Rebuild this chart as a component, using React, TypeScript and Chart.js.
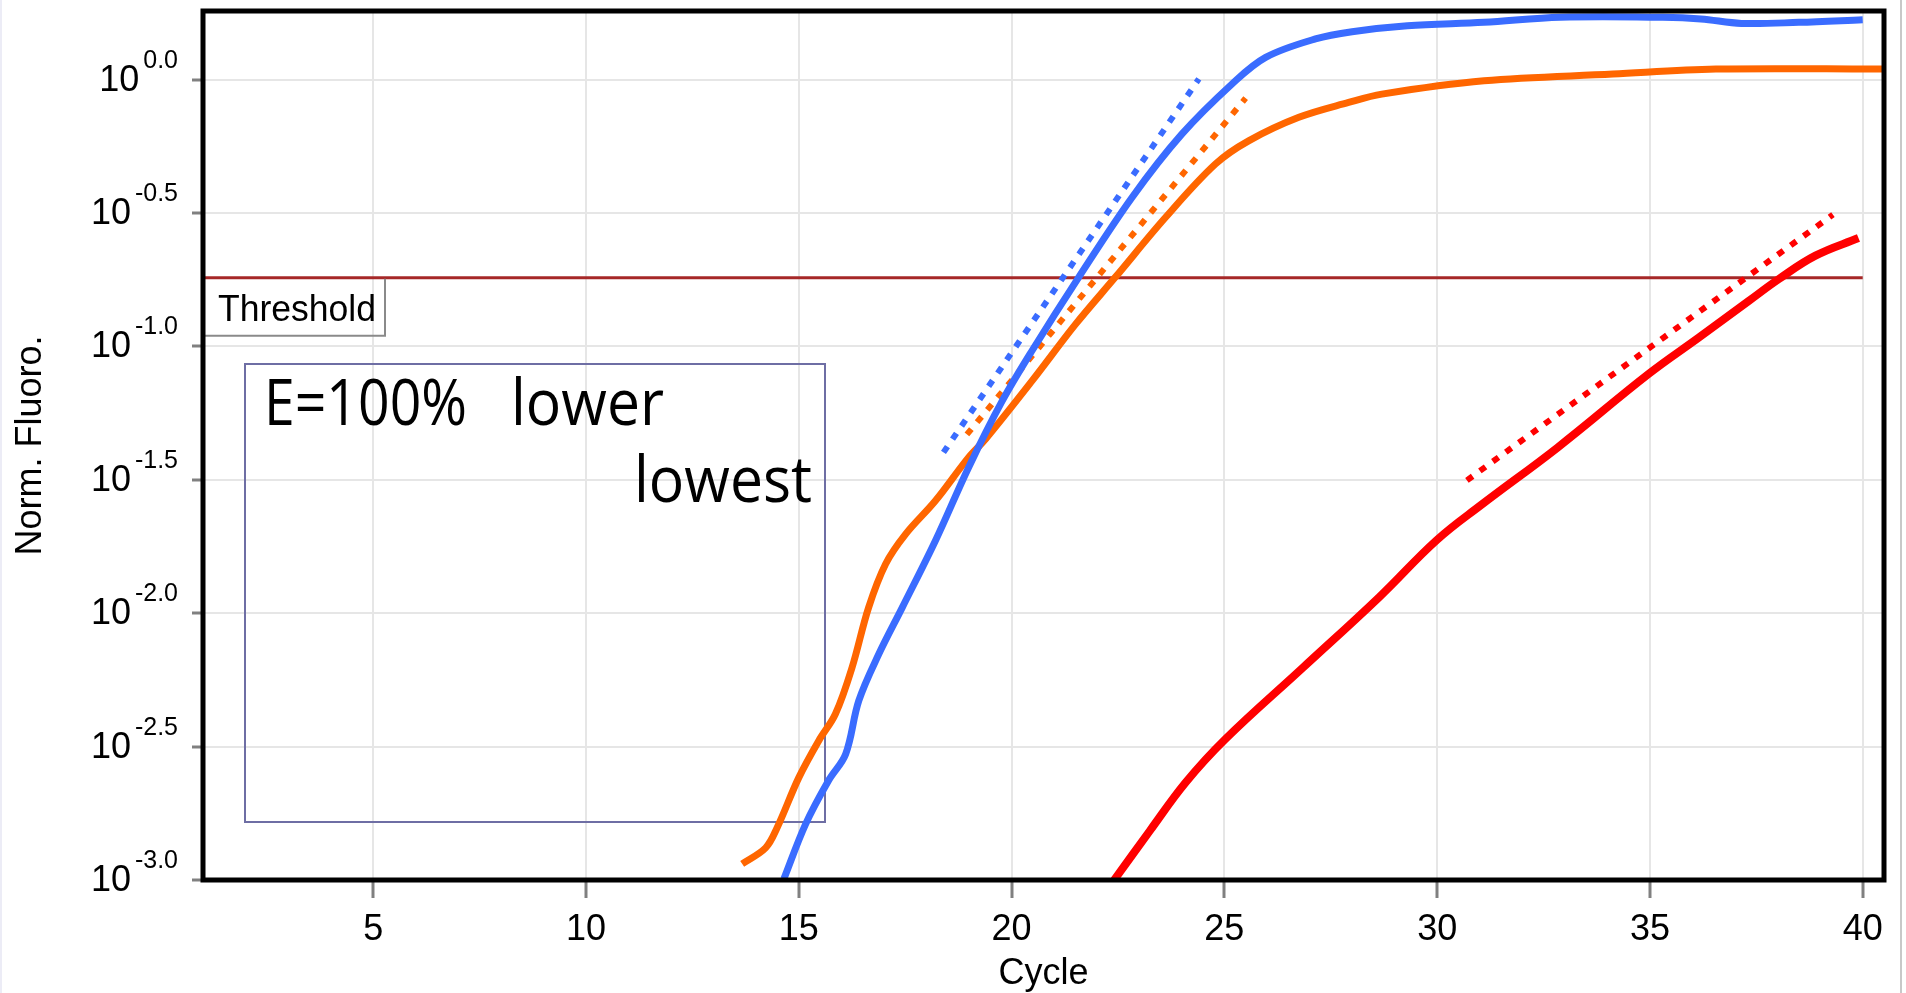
import React, { useEffect, useRef } from "react";
import { Chart, registerables } from "chart.js";

Chart.register(...registerables);

// ---- data ----
const cycleTicks = [5, 10, 15, 20, 25, 30, 35, 40];
const yTickExponents = [0, -0.5, -1, -1.5, -2, -2.5, -3];
const yTickLabels = ["0.0", "-0.5", "-1.0", "-1.5", "-2.0", "-2.5", "-3.0"];

const blueCycles = [14.65, 15.16, 15.7, 16.1, 16.41, 16.88, 17.43, 18.21, 18.99, 19.78, 20.48, 21.58, 22.83, 24.0, 25.18, 25.97, 27.14, 28.0, 29.3, 31.1, 32.9, 35.3, 36.2, 37.15, 38.5, 40.0];
const blueValues = [0.00101, 0.00162, 0.00236, 0.00296, 0.0047, 0.00703, 0.0105, 0.0187, 0.0352, 0.0625, 0.0964, 0.182, 0.362, 0.625, 0.964, 1.213, 1.422, 1.514, 1.594, 1.641, 1.714, 1.714, 1.69, 1.626, 1.641, 1.679];

const orangeCycles = [13.67, 14.22, 14.49, 15.0, 15.47, 15.86, 16.25, 16.64, 17.04, 17.51, 18.21, 18.99, 19.39, 20.48, 21.5, 22.44, 23.62, 24.79, 25.57, 26.75, 27.92, 28.7, 31.1, 34.13, 36.55, 40.5];
const orangeValues = [0.00115, 0.00132, 0.00157, 0.00242, 0.00333, 0.00419, 0.00625, 0.0105, 0.0153, 0.0198, 0.0264, 0.0384, 0.045, 0.0743, 0.121, 0.182, 0.305, 0.483, 0.59, 0.723, 0.822, 0.883, 0.991, 1.05, 1.096, 1.096];

const redCycles = [22.41, 23.25, 24.09, 25.02, 26.84, 28.64, 29.99, 31.04, 32.83, 34.97, 36.15, 37.32, 38.03, 38.89, 39.9];
const redValues = [0.001, 0.00153, 0.00232, 0.00337, 0.00624, 0.0115, 0.0188, 0.0255, 0.0418, 0.0789, 0.108, 0.148, 0.179, 0.219, 0.255];

const blueFitCycles = [18.4, 24.4];
const blueFitValues = [0.0401, 1.007];
const orangeFitCycles = [18.95, 25.5];
const orangeFitValues = [0.0468, 0.853];
const redFitCycles = [30.7, 39.3];
const redFitValues = [0.0315, 0.312];

const thresholdCycles = [1, 40];
const thresholdValue = 0.181;

const xLabel = "Cycle";
const yLabel = "Norm. Fluoro.";
const thresholdLabel = "Threshold";
const noteLine1a = "E=100%";
const noteLine1b = "lower";
const noteLine2 = "lowest";

// ---- styles ----
const BLUE = "#3a6cff";
const ORANGE = "#ff6600";
const RED = "#ff0000";
const THRESH = "#a62828";
const PIX_FONT = '"Liberation Sans", Arial, sans-serif';
const NOTE_FONT = '"Open Sans", "Noto Sans", sans-serif';

const pts = (xs: number[], ys: number[]) => xs.map((x, i) => ({ x, y: ys[i] }));

const overlay = {
  id: "overlay",
  beforeDraw(chart: any) {
    const ctx = chart.ctx;
    ctx.save();
    ctx.fillStyle = "#ffffff";
    ctx.fillRect(0, 0, chart.width, chart.height);
    ctx.fillStyle = "#ececf6";
    ctx.fillRect(0, 0, 2, chart.height);
    ctx.fillStyle = "#c8c8c8";
    ctx.fillRect(1900, 0, 2, chart.height);
    ctx.restore();
  },
  beforeDatasetsDraw(chart: any) {
    const ctx = chart.ctx;
    ctx.save();
    ctx.strokeStyle = "#6e6ea4";
    ctx.lineWidth = 2;
    ctx.strokeRect(245, 364, 580, 458);
    ctx.fillStyle = "#000";
    ctx.textBaseline = "alphabetic";
    ctx.textAlign = "left";
    ctx.font = `64px ${NOTE_FONT}`;
    ctx.fillText(noteLine1a, 264, 425, 203);
    ctx.fillText(noteLine1b, 511, 425, 153);
    ctx.fillText(noteLine2, 634, 502, 178);
    ctx.restore();
  },
  afterDatasetsDraw(chart: any) {
    const ctx = chart.ctx;
    const a = chart.chartArea;
    ctx.save();
    const yT = chart.scales.y.getPixelForValue(thresholdValue);
    ctx.strokeStyle = "#8a8a8a";
    ctx.lineWidth = 2;
    ctx.beginPath();
    ctx.moveTo(385, yT + 1);
    ctx.lineTo(385, yT + 58);
    ctx.lineTo(a.left, yT + 58);
    ctx.stroke();
    ctx.fillStyle = "#000";
    ctx.font = `36px ${PIX_FONT}`;
    ctx.textAlign = "left";
    ctx.textBaseline = "alphabetic";
    ctx.fillText(thresholdLabel, 218, yT + 43, 158);
    ctx.strokeStyle = "#000";
    ctx.lineWidth = 5;
    ctx.strokeRect(a.left, a.top, a.right - a.left, a.bottom - a.top);
    ctx.restore();
  },
  afterDraw(chart: any) {
    const ctx = chart.ctx;
    const a = chart.chartArea;
    const xs = chart.scales.x;
    const ys = chart.scales.y;
    ctx.save();
    ctx.fillStyle = "#000";
    ctx.textBaseline = "alphabetic";
    yTickExponents.forEach((e, i) => {
      const y = ys.getPixelForValue(Math.pow(10, e));
      ctx.font = `25px ${PIX_FONT}`;
      ctx.textAlign = "right";
      ctx.fillText(yTickLabels[i], 178, y - 12);
      const w = ctx.measureText(yTickLabels[i]).width;
      ctx.font = `36px ${PIX_FONT}`;
      ctx.fillText("10", 178 - w - 4, y + 11);
    });
    ctx.font = `36px ${PIX_FONT}`;
    ctx.textAlign = "center";
    cycleTicks.forEach((c) => {
      ctx.fillText(String(c), xs.getPixelForValue(c), 940);
    });
    ctx.fillText(xLabel, (a.left + a.right) / 2, 984);
    ctx.translate(41, (a.top + a.bottom) / 2);
    ctx.rotate(-Math.PI / 2);
    ctx.fillText(yLabel, 0, 0);
    ctx.restore();
  },
};

export default function App() {
  const ref = useRef<HTMLCanvasElement | null>(null);
  useEffect(() => {
    if (!ref.current) return;
    const gridBase = {
      color: "#e6e6e6",
      lineWidth: 2,
      drawTicks: true,
      tickColor: "#808080",
      tickWidth: 3,
    };
    const chart = new Chart(ref.current, {
      type: "scatter",
      data: {
        datasets: [
          { label: "Threshold", data: pts(thresholdCycles, thresholdCycles.map(() => thresholdValue)), showLine: true, borderColor: THRESH, borderWidth: 3, pointRadius: 0, order: 10 },
          { label: "Blue", data: pts(blueCycles, blueValues), showLine: true, borderColor: BLUE, borderWidth: 7, pointRadius: 0, tension: 0.35, order: 1 },
          { label: "Orange", data: pts(orangeCycles, orangeValues), showLine: true, borderColor: ORANGE, borderWidth: 7, pointRadius: 0, tension: 0.35, order: 2 },
          { label: "Red", data: pts(redCycles, redValues), showLine: true, borderColor: RED, borderWidth: 8, pointRadius: 0, tension: 0.4, order: 3 },
          { label: "Blue fit", data: pts(blueFitCycles, blueFitValues), showLine: true, borderColor: BLUE, borderWidth: 6, borderDash: [7, 9], pointRadius: 0, order: 4 },
          { label: "Orange fit", data: pts(orangeFitCycles, orangeFitValues), showLine: true, borderColor: ORANGE, borderWidth: 6, borderDash: [7, 9], pointRadius: 0, order: 5 },
          { label: "Red fit", data: pts(redFitCycles, redFitValues), showLine: true, borderColor: RED, borderWidth: 6, borderDash: [7, 9], pointRadius: 0, order: 6 },
        ],
      },
      options: {
        animation: false,
        responsive: false,
        devicePixelRatio: 1,
        events: [],
        layout: { padding: { top: 11, right: 22, left: 0, bottom: 0 } },
        plugins: {
          legend: { display: false },
          tooltip: { enabled: false },
          title: { display: false },
        },
        scales: {
          x: {
            type: "linear",
            position: "bottom",
            min: 1,
            max: 40.5,
            afterBuildTicks: (s: any) => {
              s.ticks = cycleTicks.map((v) => ({ value: v }));
            },
            afterFit: (s: any) => {
              s.height = 113;
            },
            ticks: { display: false },
            grid: { ...gridBase, tickLength: 18 },
            border: { display: false },
          },
          y: {
            type: "logarithmic",
            position: "left",
            min: 0.001,
            max: 1.81,
            afterBuildTicks: (s: any) => {
              s.ticks = yTickExponents.map((e) => ({ value: Math.pow(10, e) }));
            },
            afterFit: (s: any) => {
              s.width = 203;
            },
            ticks: { display: false },
            grid: { ...gridBase, tickLength: 11 },
            border: { display: false },
          },
        },
      } as any,
      plugins: [overlay],
    } as any);
    return () => chart.destroy();
  }, []);
  return (
    <div style={{ position: "fixed", left: 0, top: 0, width: 1906, height: 993, background: "#fff" }}>
      <canvas ref={ref} width={1906} height={993} style={{ display: "block", width: 1906, height: 993 }} />
    </div>
  );
}
